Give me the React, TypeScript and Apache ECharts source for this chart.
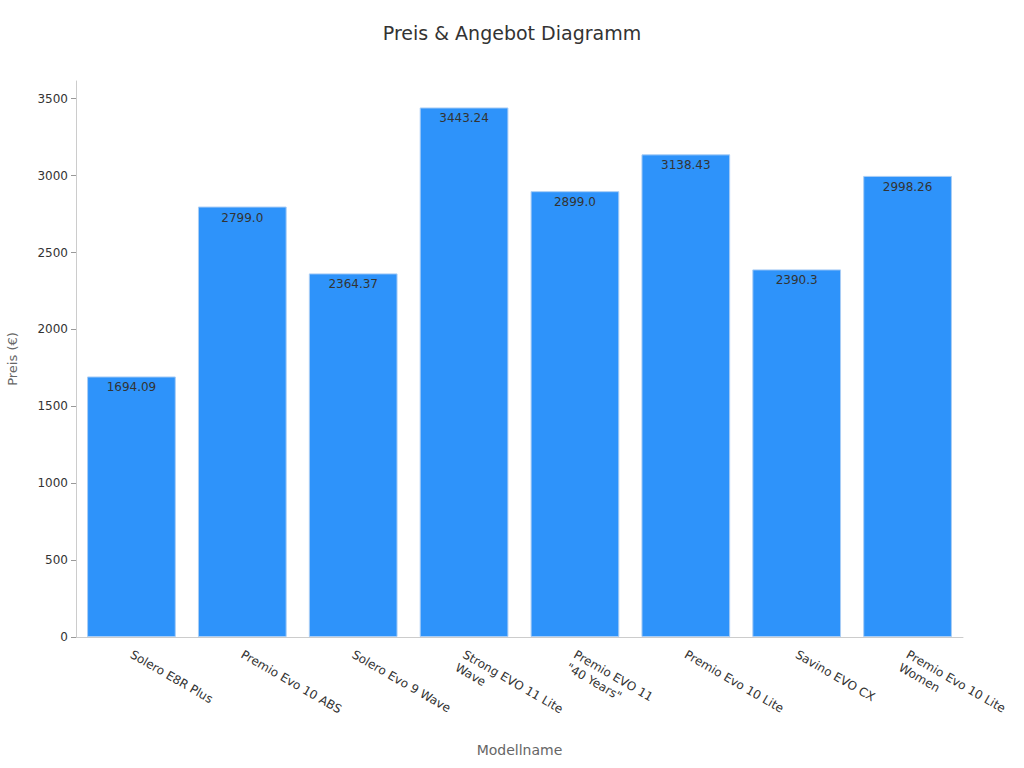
import React, { useEffect, useRef } from "react";
import * as echarts from "echarts";

const categories = [
  "Solero E8R Plus",
  "Premio Evo 10 ABS",
  "Solero Evo 9 Wave",
  "Strong EVO 11 Lite\nWave",
  "Premio EVO 11\n\"40 Years\"",
  "Premio Evo 10 Lite",
  "Savino EVO CX",
  "Premio Evo 10 Lite\nWomen",
];
const prices = [1694.09, 2799.0, 2364.37, 3443.24, 2899.0, 3138.43, 2390.3, 2998.26];
const labelTexts = ["1694.09", "2799.0", "2364.37", "3443.24", "2899.0", "3138.43", "2390.3", "2998.26"];

export default function App() {
  const ref = useRef<HTMLDivElement>(null);
  useEffect(() => {
    if (!ref.current) return;
    const chart = echarts.init(ref.current, null, { renderer: "svg" });
    const font = "DejaVu Sans";
    chart.setOption({
      animation: false,
      textStyle: { fontFamily: font },
      title: {
        text: "Preis & Angebot Diagramm",
        left: "center",
        top: 18,
        textStyle: { fontFamily: font, fontSize: 19, fontWeight: "normal", color: "#333" },
      },
      grid: { left: 76, right: 61, top: 81, bottom: 131, containLabel: false, outerBoundsMode: "none" },
      xAxis: {
        type: "category",
        data: categories,
        name: "Modellname",
        nameLocation: "middle",
        nameGap: 106,
        nameTextStyle: { fontFamily: font, fontSize: 14, color: "#666" },
        axisLine: { lineStyle: { color: "#ccc" } },
        axisTick: { alignWithLabel: true, lineStyle: { color: "#999" } },
        axisLabel: {
          rotate: -30,
          fontFamily: font,
          fontSize: 12,
          lineHeight: 15,
          color: "#333",
          interval: 0,
          margin: 8,
          align: "left",
          verticalAlign: "top",
          padding: [0, 0, 0, 4],
        },
      },
      yAxis: {
        type: "value",
        min: 0,
        max: 3615.4,
        interval: 500,
        name: "Preis (€)",
        nameLocation: "middle",
        nameGap: 57,
        nameTextStyle: { fontFamily: font, fontSize: 13, color: "#666" },
        axisLine: { show: true, lineStyle: { color: "#ccc" } },
        axisTick: { show: true, lineStyle: { color: "#999" } },
        splitLine: { show: false },
        axisLabel: {
          fontFamily: font,
          fontSize: 12,
          color: "#333",
          showMaxLabel: false,
          formatter: (v: number) => (v % 500 === 0 ? String(v) : ""),
        },
      },
      series: [
        {
          type: "bar",
          data: prices,
          barCategoryGap: "20%",
          itemStyle: { color: "#2E93FA", borderColor: "#a9cdf5", borderWidth: 1 },
          label: {
            show: true,
            position: "insideTop",
            distance: 5,
            fontFamily: font,
            fontSize: 12,
            color: "#333",
            formatter: (p: any) => labelTexts[p.dataIndex],
          },
        },
      ],
    });
    return () => chart.dispose();
  }, []);
  return (
    <div
      ref={ref}
      style={{ position: "absolute", left: 0, top: 0, width: 1024, height: 768 }}
    />
  );
}
